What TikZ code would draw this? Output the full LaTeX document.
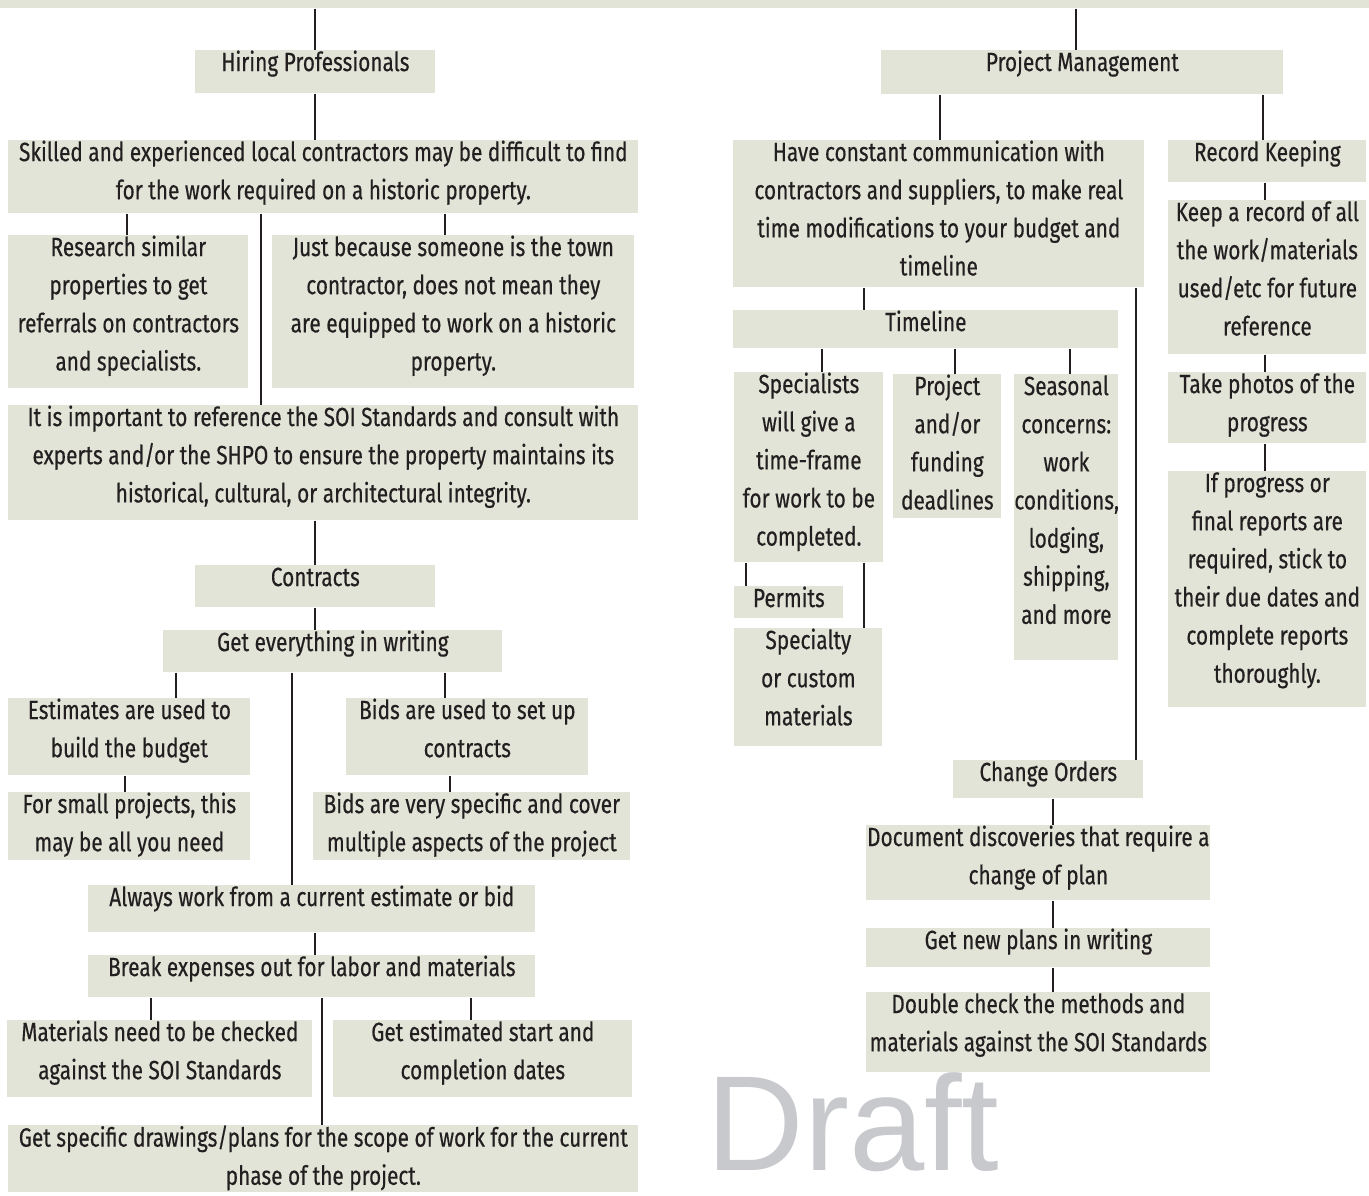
\documentclass[tikz,border=0pt]{standalone}
\usepackage{fontspec}
\setmainfont[FakeStretch=0.79, FakeBold=0.4]{Fira Sans}
\newfontfamily\draftfont{Liberation Sans}
\usepackage{xcolor}
\usepackage{tikz}
\usetikzlibrary{positioning,calc}
\definecolor{cardfill}{RGB}{225,228,214}
\definecolor{linkgray}{RGB}{35,31,32}
\definecolor{draftgray}{RGB}{200,201,204}
\newcommand{\cardtext}[3]{\parbox[c][\dimexpr0.02cm*#2\relax][t]{\dimexpr0.02cm*#1\relax}{\centering\fontsize{15}{21.7}\selectfont\rule{0pt}{11.8pt}#3\par}}

\begin{document}
\begin{tikzpicture}[
    x=0.02cm, y=-0.02cm,
    card/.style={rectangle, fill=cardfill, inner sep=0pt, anchor=north west, text=linkgray},
    link/.style={draw=linkgray, line width=1.1pt},
    watermark/.style={text=draftgray, inner sep=0pt, anchor=base west, font=\draftfont\fontsize{77}{77}\selectfont}
]
    \useasboundingbox (0,0) rectangle (1369,1196);
    \node[card, minimum width=27.38cm, minimum height=0.16cm] (band) at (0,0) {};

    \node[card] (hire) at (195,50) {\cardtext{240}{43}{Hiring Professionals}};
    \node[card] (skill) at (8,140) {\cardtext{630}{73}{Skilled and experienced local contractors may be difficult to find\\for the work required on a historic property.}};
    \node[card] (research) at (8,235) {\cardtext{240}{153}{Research similar\\properties to get\\referrals on contractors\\and specialists.}};
    \node[card] (just) at (272,235) {\cardtext{362}{153}{Just because someone is the town\\contractor, does not mean they\\are equipped to work on a historic\\property.}};
    \node[card] (important) at (8,405) {\cardtext{630}{115}{It is important to reference the SOI Standards and consult with\\experts and/or the SHPO to ensure the property maintains its\\historical, cultural, or architectural integrity.}};
    \node[card] (contracts) at (195,565) {\cardtext{240}{42}{Contracts}};
    \node[card] (writing) at (163,630) {\cardtext{339}{42}{Get everything in writing}};
    \node[card] (estimates) at (8,698) {\cardtext{242}{77}{Estimates are used to\\build the budget}};
    \node[card] (small) at (8,792) {\cardtext{242}{68}{For small projects, this\\may be all you need}};
    \node[card] (bids) at (346,698) {\cardtext{242}{77}{Bids are used to set up\\contracts}};
    \node[card] (bidspec) at (313,792) {\cardtext{317}{68}{Bids are very specific and cover\\multiple aspects of the project}};
    \node[card] (always) at (88,885) {\cardtext{447}{47}{Always work from a current estimate or bid}};
    \node[card] (expenses) at (88,955) {\cardtext{447}{42}{Break expenses out for labor and materials}};
    \node[card] (materials) at (7,1020) {\cardtext{305}{77}{Materials need to be checked\\against the SOI Standards}};
    \node[card] (dates) at (333,1020) {\cardtext{299}{77}{Get estimated start and\\completion dates}};
    \node[card] (drawings) at (8,1125) {\cardtext{630}{67}{Get specific drawings/plans for the scope of work for the current\\phase of the project.}};

    \node[card] (pm) at (881,50) {\cardtext{402}{44}{Project Management}};
    \node[card] (comm) at (733,140) {\cardtext{411}{147}{Have constant communication with\\contractors and suppliers, to make real\\time modifications to your budget and\\timeline}};
    \node[card] (record) at (1168,140) {\cardtext{198}{42}{Record Keeping}};
    \node[card] (keep) at (1168,200) {\cardtext{198}{154}{Keep a record of all\\the work/materials\\used/etc for future\\reference}};
    \node[card] (photos) at (1168,372) {\cardtext{198}{71}{Take photos of the\\progress}};
    \node[card] (reports) at (1168,471) {\cardtext{198}{236}{If progress or\\final reports are\\required, stick to\\their due dates and\\complete reports\\thoroughly.}};
    \node[card] (timeline) at (733,310) {\cardtext{385}{38}{Timeline}};
    \node[card] (specialists) at (734,372) {\cardtext{149}{190}{Specialists\\will give a\\time-frame\\for work to be\\completed.}};
    \node[card] (deadlines) at (893,374) {\cardtext{108}{144}{Project\\and/or\\funding\\deadlines}};
    \node[card] (seasonal) at (1014,374) {\cardtext{104}{286}{Seasonal\\concerns:\\work\\conditions,\\lodging,\\shipping,\\and more}};
    \node[card] (permits) at (734,586) {\cardtext{109}{32}{Permits}};
    \node[card] (specialty) at (734,628) {\cardtext{148}{118}{Specialty\\or custom\\materials}};
    \node[card] (change) at (953,760) {\cardtext{190}{38}{Change Orders}};
    \node[card] (discover) at (866,825) {\cardtext{344}{75}{Document discoveries that require a\\change of plan}};
    \node[card] (newplans) at (866,928) {\cardtext{344}{39}{Get new plans in writing}};
    \node[card] (double) at (866,992) {\cardtext{344}{80}{Double check the methods and\\materials against the SOI Standards}};

    \node[watermark] (draft) at (706,1170) {Draft};

    \draw[link] (band.south -| 315,0) -- (hire.north -| 315,0);
    \draw[link] (hire.south -| 315,0) -- (skill.north -| 315,0);
    \draw[link] (skill.south -| 127,0) -- (research.north -| 127,0);
    \draw[link] (skill.south -| 445,0) -- (just.north -| 445,0);
    \draw[link] (skill.south -| 261,0) -- (important.north -| 261,0);
    \draw[link] (important.south -| 315,0) -- (contracts.north -| 315,0);
    \draw[link] (contracts.south -| 315,0) -- (writing.north -| 315,0);
    \draw[link] (writing.south -| 176,0) -- (estimates.north -| 176,0);
    \draw[link] (writing.south -| 445,0) -- (bids.north -| 445,0);
    \draw[link] (writing.south -| 292,0) -- (always.north -| 292,0);
    \draw[link] (estimates.south -| 125,0) -- (small.north -| 125,0);
    \draw[link] (bids.south -| 450,0) -- (bidspec.north -| 450,0);
    \draw[link] (always.south -| 315,0) -- (expenses.north -| 315,0);
    \draw[link] (expenses.south -| 151,0) -- (materials.north -| 151,0);
    \draw[link] (expenses.south -| 471,0) -- (dates.north -| 471,0);
    \draw[link] (expenses.south -| 322,0) -- (drawings.north -| 322,0);

    \draw[link] (band.south -| 1076,0) -- (pm.north -| 1076,0);
    \draw[link] (pm.south -| 940,0) -- (comm.north -| 940,0);
    \draw[link] (pm.south -| 1263,0) -- (record.north -| 1263,0);
    \draw[link] (record.south -| 1265,0) -- (keep.north -| 1265,0);
    \draw[link] (keep.south -| 1265,0) -- (photos.north -| 1265,0);
    \draw[link] (photos.south -| 1265,0) -- (reports.north -| 1265,0);
    \draw[link] (comm.south -| 864,0) -- (timeline.north -| 864,0);
    \draw[link] (comm.south -| 1136,0) -- (change.north -| 1136,0);
    \draw[link] (timeline.south -| 822,0) -- (specialists.north -| 822,0);
    \draw[link] (timeline.south -| 955,0) -- (deadlines.north -| 955,0);
    \draw[link] (timeline.south -| 1070,0) -- (seasonal.north -| 1070,0);
    \draw[link] (specialists.south -| 746,0) -- (permits.north -| 746,0);
    \draw[link] (specialists.south -| 864,0) -- (specialty.north -| 864,0);
    \draw[link] (change.south -| 1053,0) -- (discover.north -| 1053,0);
    \draw[link] (discover.south -| 1053,0) -- (newplans.north -| 1053,0);
    \draw[link] (newplans.south -| 1053,0) -- (double.north -| 1053,0);
\end{tikzpicture}
\end{document}
